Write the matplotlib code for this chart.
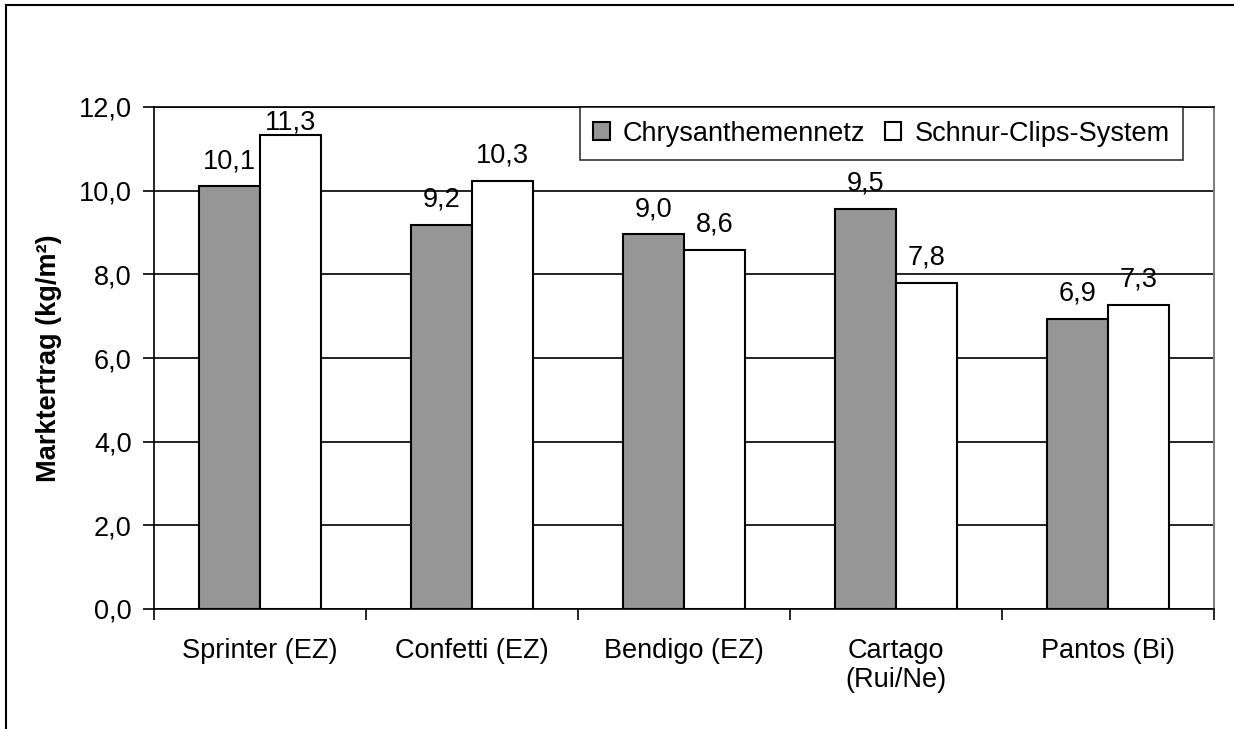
import numpy as np
import matplotlib.pyplot as plt
from matplotlib.lines import Line2D

plt.rcParams['font.family'] = ['Liberation Sans', 'DejaVu Sans']

# Daten
sorten = ['Sprinter (EZ)', 'Confetti (EZ)', 'Bendigo (EZ)', 'Cartago\n(Rui/Ne)', 'Pantos (Bi)']
netz = [10.1, 9.18, 8.96, 9.56, 6.93]
clips = [11.33, 10.24, 8.58, 7.80, 7.27]
netz_lbl = ['10,1', '9,2', '9,0', '9,5', '6,9']
clips_lbl = ['11,3', '10,3', '8,6', '7,8', '7,3']
yticks = [0, 2, 4, 6, 8, 10, 12]

W, H = 1234, 729
fig = plt.figure(figsize=(W / 100, H / 100), dpi=100)
ax = fig.add_axes([154 / W, 1 - 609 / H, (1214 - 154) / W, (609 - 107) / H])

fs = 19.5
x = np.arange(len(sorten))
bw = 0.288
ax.bar(x - bw / 2, netz, bw, color='#969696', edgecolor='black', linewidth=1.5,
       label='Chrysanthemennetz', zorder=3)
ax.bar(x + bw / 2, clips, bw, color='white', edgecolor='black', linewidth=1.5,
       label='Schnur-Clips-System', zorder=3)

# Datenbeschriftungen (oben an der Zeichenfläche begrenzt)
for xi, v, t in zip(x - bw / 2, netz, netz_lbl):
    ax.text(xi, min(v + 0.6, 11.64), t, ha='center', va='center', fontsize=fs, zorder=4)
for xi, v, t in zip(x + bw / 2, clips, clips_lbl):
    ax.text(xi, min(v + 0.6, 11.64), t, ha='center', va='center', fontsize=fs, zorder=4)

ax.set_ylim(0, 12)
ax.set_xlim(-0.5, len(sorten) - 0.5)
ax.set_yticks(yticks)
ax.set_yticklabels([f'{t:.1f}'.replace('.', ',') for t in yticks], fontsize=fs)
ax.yaxis.grid(True, color='black', linewidth=1.2, zorder=0)
ax.set_axisbelow(True)

ax.set_xticks(x)
ax.set_xticklabels(sorten, fontsize=fs, linespacing=1.15)
ax.tick_params(axis='x', length=0, pad=21)
ax.set_xticks(np.arange(len(sorten) + 1) - 0.5, minor=True)
ax.tick_params(axis='x', which='minor', length=8, width=1.2, direction='out')
ax.tick_params(axis='y', length=8, width=1.2, direction='out', pad=8)

for s in ['left', 'bottom', 'top']:
    ax.spines[s].set_color('black')
    ax.spines[s].set_linewidth(1.2)
ax.spines['right'].set_color('#808080')
ax.spines['right'].set_linewidth(1.5)

ax.set_ylabel('Marktertrag (kg/m²)', fontsize=fs, fontweight='bold', labelpad=12)

leg = fig.legend(loc='upper right', bbox_to_anchor=(1183 / W, 1 - 107 / H), ncol=2,
                 fontsize=fs, frameon=True, fancybox=False, edgecolor='black',
                 handlelength=0.6, handleheight=0.6, handletextpad=0.5,
                 columnspacing=0.7, borderpad=0.5, borderaxespad=0)
leg.get_frame().set_linewidth(1.2)

# Rahmen
fig.add_artist(Line2D([6 / W, 1], [1 - 5 / H, 1 - 5 / H], color='black', linewidth=1.5))
fig.add_artist(Line2D([6 / W, 6 / W], [0, 1 - 5 / H], color='black', linewidth=1.5))

fig.savefig('out.png', dpi=100)
